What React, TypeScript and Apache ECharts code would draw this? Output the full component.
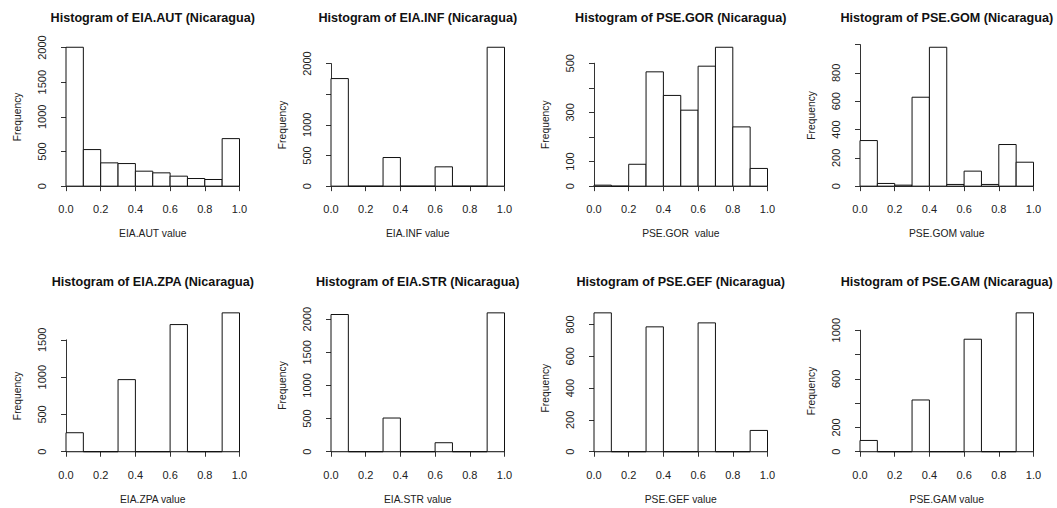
import React, { useEffect, useRef } from "react";
import * as echarts from "echarts";

// ---- data ----
const binEdges = [0, 0.1, 0.2, 0.3, 0.4, 0.5, 0.6, 0.7, 0.8, 0.9, 1.0];
const variables = ["EIA.AUT", "EIA.INF", "PSE.GOR", "PSE.GOM", "EIA.ZPA", "EIA.STR", "PSE.GEF", "PSE.GAM"];
const xAxisNames = ["EIA.AUT value", "EIA.INF value", "PSE.GOR  value", "PSE.GOM value", "EIA.ZPA value", "EIA.STR value", "PSE.GEF value", "PSE.GAM value"];
const countsAUT = [2005, 528, 336, 326, 216, 192, 144, 110, 96, 686];
const countsINF = [1755, 0, 0, 467, 0, 0, 315, 0, 0, 2266];
const countsGOR = [4, 0, 89, 465, 369, 309, 488, 565, 241, 72];
const countsGOM = [322, 19, 7, 628, 981, 12, 106, 12, 294, 169];
const countsZPA = [255, 0, 0, 967, 0, 0, 1705, 0, 0, 1862];
const countsSTR = [2071, 0, 0, 509, 0, 0, 136, 0, 0, 2096];
const countsGEF = [873, 0, 0, 785, 0, 0, 810, 0, 0, 134];
const countsGAM = [93, 0, 0, 426, 0, 0, 926, 0, 0, 1143];
const allCounts = [countsAUT, countsINF, countsGOR, countsGOM, countsZPA, countsSTR, countsGEF, countsGAM];
// y tick step / last tick / labels shown
const yStep = [500, 500, 100, 200, 500, 500, 200, 200];
const yTop = [2000, 2000, 500, 1000, 1500, 2000, 800, 1000];
const yShownLabels = [
  [0, 500, 1000, 1500, 2000],
  [0, 500, 1000, 2000],
  [0, 100, 300, 500],
  [0, 200, 400, 600, 800],
  [0, 500, 1000, 1500],
  [0, 500, 1000, 1500, 2000],
  [0, 200, 400, 600, 800],
  [0, 200, 600, 1000],
];
const xTicks = [0, 0.2, 0.4, 0.6, 0.8, 1.0];

// ---- layout ----
const W = 1057;
const H = 508;
const colX0 = [66, 331, 594, 860]; // pixel of x = 0
const plotW = 173.5; // pixel span of x 0..1
const rowAxisY = [191.7, 457.3]; // x-axis line
const plotH = 150; // R plot region height
const titleCenterY = [18, 282];
const FONT = "'Liberation Sans', Arial, sans-serif";

export default function App() {
  const ref = useRef<HTMLDivElement>(null);
  useEffect(() => {
    if (!ref.current) return;
    const chart = echarts.init(ref.current, undefined, { renderer: "svg" });
    const grids: any[] = [];
    const xAxes: any[] = [];
    const yAxes: any[] = [];
    const series: any[] = [];
    const titles: any[] = [];
    allCounts.forEach((counts, i) => {
      const r = Math.floor(i / 4);
      const c = i % 4;
      const M = Math.max(...counts);
      const unit = plotH / (1.08 * M);
      const yOffset = 0.04 * M * unit;
      const zeroY = rowAxisY[r] - yOffset;
      const topY = zeroY - yTop[i] * unit;
      const x0 = colX0[c];
      grids.push({
        left: x0,
        top: topY,
        width: plotW,
        height: zeroY - topY,
        containLabel: false,
      });
      xAxes.push({
        gridIndex: i,
        type: "value",
        min: 0,
        max: 1,
        interval: 0.2,
        offset: yOffset,
        axisLine: { show: true, lineStyle: { color: "#333", width: 1 } },
        axisTick: { show: true, length: 5, lineStyle: { color: "#333" } },
        splitLine: { show: false },
        axisLabel: {
          margin: 12,
          fontSize: 11,
          color: "#222",
          fontFamily: FONT,
          formatter: (v: number) => (xTicks.some((t) => Math.abs(t - v) < 1e-9) ? v.toFixed(1) : ""),
        },
        name: xAxisNames[i],
        nameLocation: "middle",
        nameGap: 37,
        nameTextStyle: { fontSize: 10.3, color: "#222", fontFamily: FONT },
      });
      yAxes.push({
        gridIndex: i,
        type: "value",
        min: 0,
        max: yTop[i],
        interval: yStep[i],
        offset: 0.04 * plotW,
        axisLine: { show: true, lineStyle: { color: "#333", width: 1 } },
        axisTick: { show: true, length: 5, lineStyle: { color: "#333" } },
        splitLine: { show: false },
        axisLabel: {
          rotate: 90,
          margin: 12,
          fontSize: 11,
          color: "#222",
          fontFamily: FONT,
          formatter: (v: number) => (yShownLabels[i].includes(v) ? String(v) : ""),
        },
        name: "Frequency",
        nameLocation: "middle",
        nameGap: 37,
        nameTextStyle: { fontSize: 10.3, color: "#222", fontFamily: FONT },
      });
      series.push({
        type: "custom",
        xAxisIndex: i,
        yAxisIndex: i,
        clip: false,
        encode: { x: [0, 1], y: 2 },
        data: counts.map((v, k) => [binEdges[k], binEdges[k + 1], v]),
        renderItem: (_p: any, api: any) => {
          const a = api.coord([api.value(0), api.value(2)]);
          const b = api.coord([api.value(1), 0]);
          return {
            type: "rect",
            shape: { x: a[0], y: a[1], width: b[0] - a[0], height: b[1] - a[1] },
            style: { fill: "#fff", stroke: "#111", lineWidth: 1 },
          };
        },
      });
      titles.push({
        text: "Histogram of " + variables[i] + " (Nicaragua)",
        left: x0 + plotW / 2,
        top: titleCenterY[r] - 7,
        textAlign: "center",
        padding: 0,
        textStyle: { fontSize: 12.6, fontWeight: "bold", color: "#111", fontFamily: FONT },
      });
    });
    chart.setOption({
      animation: false,
      backgroundColor: "#fff",
      title: titles,
      grid: grids,
      xAxis: xAxes,
      yAxis: yAxes,
      series,
    });
    return () => chart.dispose();
  }, []);
  return (
    <div
      ref={ref}
      style={{ position: "fixed", left: 0, top: 0, width: W, height: H, background: "#fff" }}
    />
  );
}
